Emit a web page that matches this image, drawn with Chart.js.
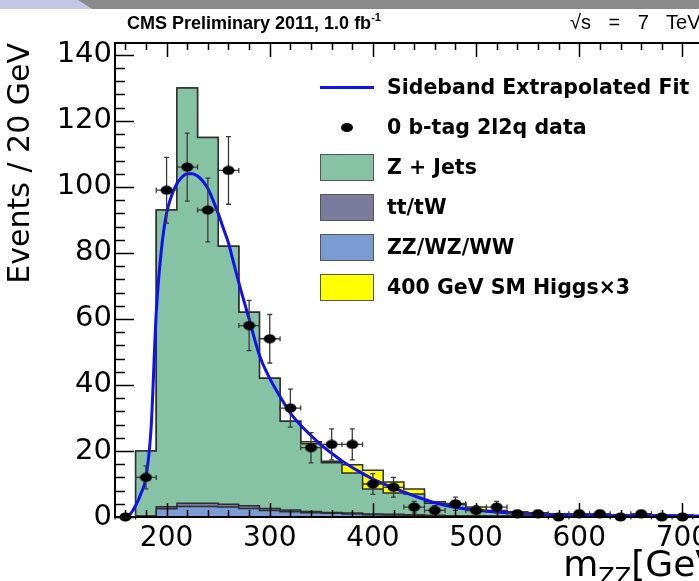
<!DOCTYPE html>
<html>
<head>
<meta charset="utf-8">
<script src="https://cdn.jsdelivr.net/npm/chart.js@4.4.1/dist/chart.umd.min.js"></script>
<style>
  html, body { margin: 0; padding: 0; background: #fff; overflow: hidden; width: 699px; height: 581px; }
  #wrap { position: relative; width: 760px; height: 581px; }
  #plot-box { position: absolute; left: 0; top: 0; width: 760px; height: 581px; }
  .band { position: absolute; left: 0; top: 0; width: 760px; height: 9px; background: #8a8a8a; }
  .band-left { position: absolute; left: 0; top: 0; width: 92px; height: 9px; background: #c6c6e6;
               clip-path: polygon(0 0, 78px 0, 92px 9px, 0 9px); }
  .head { position: absolute; top: 14px; font-family: "Liberation Sans", Arial, sans-serif; font-size: 18px;
          line-height: 18px; color: #000; white-space: nowrap; }
  .head sup { font-size: 11px; vertical-align: 0; position: relative; top: -8px; }
  .xtitle { position: absolute; right: 26px; top: 546px; font-family: "DejaVu Sans", sans-serif; font-size: 36px;
            line-height: 36px; white-space: nowrap; }
  .xtitle span { font-size: 24px; position: relative; top: 9px; }
  .leg-row { position: absolute; left: 320px; height: 27px; }
  .leg-box { position: absolute; left: 0; top: 0; width: 52px; height: 25px; border: 1px solid #555; }
  .leg-line { position: absolute; left: 0; top: 12px; width: 54px; height: 3px; }
  .leg-dot { position: absolute; left: 21px; top: 9px; width: 12px; height: 9px; border-radius: 50%; background: #000; }
  .leg-text { position: absolute; left: 67px; top: 3px; font-family: "DejaVu Sans", sans-serif; font-weight: bold;
              font-size: 20.5px; line-height: 20px; white-space: nowrap; color: #000; }
</style>
</head>
<body>
<div id="wrap">
  <div class="band"></div>
  <div class="band-left"></div>
  <div id="plot-box"><canvas id="plot"></canvas></div>
  <div class="head" style="left:127px; font-weight:bold;">CMS Preliminary 2011, 1.0 fb<sup>-1</sup></div>
  <div class="head" style="left:570px; top:12px; font-size:20px; line-height:20px; word-spacing:12px;">√s = 7 TeV</div>
  <div class="xtitle">m<span>ZZ</span>[GeV]</div>
  <div id="legend"></div>
</div>
<script>
// 20 GeV bins, centres
const binCenters = [180, 200, 220, 240, 260, 280, 300, 320, 340, 360, 380, 400, 420, 440, 460,
                    480, 500, 520, 540, 560, 580, 600, 620, 640, 660, 680, 700, 720, 740];
const diboson = [0.2, 2.5, 3.2, 3.2, 3.0, 2.6, 2.0, 1.6, 1.3, 1.1, 0.9, 0.7, 0.6, 0.5, 0.4,
                 0.3, 0.3, 0.2, 0.2, 0.2, 0.1, 0.1, 0.1, 0.1, 0.1, 0.1, 0.1, 0.1, 0.1];
const ttbar = [0.1, 0.6, 1.0, 1.0, 0.9, 0.8, 0.6, 0.5, 0.4, 0.3, 0.3, 0.2, 0.2, 0.2, 0.1,
               0.1, 0.1, 0.1, 0.1, 0.05, 0.05, 0.05, 0, 0, 0, 0, 0, 0, 0];
const zjets = [19.7, 89.9, 125.8, 110.8, 78.1, 58.6, 39.4, 26.9, 20.5, 15.0, 12.1, 7.6, 6.5, 6.3, 3.7,
               3.4, 1.6, 1.5, 1.2, 0.95, 0.85, 0.75, 0.7, 0.6, 0.5, 0.4, 0.4, 0.3, 0.3];
const higgs = [0, 0, 0, 0, 0, 0, 0, 0, 0.6, 0.5, 2.5, 5.7, 3.3, 1.5, 0.4,
               0.3, 1.0, 0.2, 0, 0, 0, 0, 0, 0, 0, 0, 0, 0, 0];

// data points
const dataMass = [160, 180, 200, 220, 240, 260, 280, 300, 320, 340, 360, 380, 400, 420,
                  440, 460, 480, 500, 520, 540, 560, 580, 600, 620, 640, 660, 680, 700];
const dataCount = [0, 12, 99, 106, 93, 105, 58, 54, 33, 21, 22, 22, 10, 9,
                   3, 2, 4, 2, 3, 1, 1, 0, 1, 1, 0, 1, 0, 0];

// sideband fit curve
const fitMass = [160, 165, 170, 175, 180, 185, 190, 195, 200, 205, 210, 215, 220, 225, 230, 235, 240,
                 245, 250, 255, 260, 265, 270, 280, 290, 300, 310, 320, 330, 340, 350, 360, 370, 380,
                 390, 400, 420, 440, 460, 480, 500, 520, 550, 600, 650, 700, 750];
const fitValue = [0, 1, 3.5, 7, 12, 27, 62, 81, 92, 97.5, 101, 103, 104, 104, 103.3, 101.8, 99.5,
                  96, 92, 87.5, 83, 77, 71, 60, 49, 42, 36.5, 31.5, 27.8, 24.7, 21.8, 19.3, 17, 15,
                  13.2, 11.5, 8.8, 6.4, 4.3, 2.9, 2.1, 1.5, 1.0, 0.6, 0.4, 0.3, 0.25];

const xTickValues = [200, 300, 400, 500, 600, 700];
const yTickValues = [0, 20, 40, 60, 80, 100, 120, 140];

const legendLabels = ['Sideband Extrapolated Fit', '0 b-tag 2l2q data', 'Z + Jets', 'tt/tW', 'ZZ/WZ/WW', '400 GeV SM Higgs×3'];

const COLORS = {
  fit: '#1010f0',
  zjets: '#86c2a4',
  ttbar: '#7b7b9e',
  diboson: '#7b9bd3',
  higgs: '#ffff00',
  outline: '#2e2e2e'
};
const BIN_WIDTH = 20;

function cumulate(...parts) {
  return binCenters.map((_, i) => parts.reduce((s, p) => s + p[i], 0));
}

// points on the bin edges for a stepped outline
function stepPoints(levels) {
  const pts = [{ x: binCenters[0] - BIN_WIDTH / 2, y: 0 }];
  binCenters.forEach((c, i) => pts.push({ x: c - BIN_WIDTH / 2, y: levels[i] }));
  const last = binCenters.length - 1;
  pts.push({ x: binCenters[last] + BIN_WIDTH / 2, y: levels[last] });
  return pts;
}

function histDataset(label, levels, color, order) {
  return {
    label: label,
    data: stepPoints(levels),
    stepped: true,
    fill: 'origin',
    backgroundColor: color,
    borderColor: COLORS.outline,
    borderWidth: 1.5,
    pointRadius: 0,
    order: order
  };
}

// slightly flattened black dot, like the reference markers
const dot = document.createElement('canvas');
dot.width = 13; dot.height = 10;
(function () {
  const c = dot.getContext('2d');
  c.fillStyle = '#000';
  c.beginPath();
  c.ellipse(6.5, 5, 6, 4.6, 0, 0, Math.PI * 2);
  c.fill();
})();

const errorBars = {
  id: 'errorBars',
  beforeDatasetDraw(chart, args) {
    if (!chart.data.datasets[args.index].isData) return;
    const { ctx, scales: { x, y } } = chart;
    ctx.save();
    ctx.strokeStyle = '#3a3a3a';
    ctx.lineWidth = 1.3;
    ctx.beginPath();
    dataMass.forEach((m, i) => {
      const n = dataCount[i];
      const xl = x.getPixelForValue(m - BIN_WIDTH / 2);
      const xr = x.getPixelForValue(m + BIN_WIDTH / 2);
      const xc = x.getPixelForValue(m);
      const yc = y.getPixelForValue(n);
      ctx.moveTo(xl, yc); ctx.lineTo(xr, yc);
      ctx.moveTo(xl, yc - 2.5); ctx.lineTo(xl, yc + 2.5);
      ctx.moveTo(xr, yc - 2.5); ctx.lineTo(xr, yc + 2.5);
      if (n > 0) {
        const e = Math.sqrt(n);
        const yt = y.getPixelForValue(n + e);
        const yb = y.getPixelForValue(Math.max(n - e, 0));
        ctx.moveTo(xc, yt); ctx.lineTo(xc, yb);
        ctx.moveTo(xc - 2.5, yt); ctx.lineTo(xc + 2.5, yt);
        ctx.moveTo(xc - 2.5, yb); ctx.lineTo(xc + 2.5, yb);
      }
    });
    ctx.stroke();
    ctx.restore();
  }
};

// ROOT style frame with inward ticks
const frameTicks = {
  id: 'frameTicks',
  afterDatasetsDraw(chart) {
    const { ctx, chartArea: a, scales: { x, y } } = chart;
    ctx.save();
    ctx.strokeStyle = '#000';
    ctx.lineWidth = 1.5;
    ctx.beginPath();
    for (let m = 160; m <= 740; m += 20) {
      const px = Math.round(x.getPixelForValue(m)) + 0.5;
      const len = m % 100 === 0 ? 14 : 7;
      ctx.moveTo(px, a.bottom); ctx.lineTo(px, a.bottom - len);
      ctx.moveTo(px, a.top); ctx.lineTo(px, a.top + len);
    }
    for (let v = 0; v <= 140; v += 4) {
      const py = Math.round(y.getPixelForValue(v)) + 0.5;
      const len = v % 20 === 0 ? 19 : 10;
      ctx.moveTo(a.left, py); ctx.lineTo(a.left + len, py);
      ctx.moveTo(a.right, py); ctx.lineTo(a.right - len, py);
    }
    ctx.stroke();
    ctx.lineWidth = 2;
    ctx.strokeRect(a.left, a.top, a.right - a.left, a.bottom - a.top);
    ctx.restore();
  }
};

const datasets = [
  histDataset('400 GeV SM Higgs×3', cumulate(diboson, ttbar, zjets, higgs), COLORS.higgs, 5),
  histDataset('Z + Jets', cumulate(diboson, ttbar, zjets), COLORS.zjets, 4),
  histDataset('tt/tW', cumulate(diboson, ttbar), COLORS.ttbar, 3),
  histDataset('ZZ/WZ/WW', cumulate(diboson), COLORS.diboson, 2),
  {
    label: 'Sideband Extrapolated Fit',
    data: fitMass.map((m, i) => ({ x: m, y: fitValue[i] })),
    borderColor: COLORS.fit,
    borderWidth: 3,
    pointRadius: 0,
    fill: false,
    cubicInterpolationMode: 'monotone',
    order: 1
  },
  {
    label: '0 b-tag 2l2q data',
    isData: true,
    data: dataMass.map((m, i) => ({ x: m, y: dataCount[i] })),
    showLine: false,
    pointStyle: dot,
    pointRadius: 6,
    clip: false,
    order: 0
  }
];

new Chart(document.getElementById('plot'), {
  type: 'line',
  data: { datasets: datasets },
  plugins: [errorBars, frameTicks],
  options: {
    responsive: true,
    maintainAspectRatio: false,
    animation: false,
    events: [],
    layout: { padding: { left: 0, top: 43, right: 26, bottom: 0 } },
    plugins: { legend: { display: false }, tooltip: { enabled: false }, title: { display: false } },
    scales: {
      x: {
        type: 'linear',
        min: 150,
        max: 750,
        grid: { display: false, drawTicks: false },
        border: { display: false },
        ticks: { font: { family: 'DejaVu Sans', size: 28 }, color: '#000', padding: 5, maxRotation: 0, autoSkip: false },
        afterBuildTicks: s => { s.ticks = xTickValues.map(v => ({ value: v })); },
        afterFit: s => { s.height = 64; }
      },
      y: {
        min: 0,
        max: 143.6,
        grid: { display: false, drawTicks: false },
        border: { display: false },
        ticks: { font: { family: 'DejaVu Sans', size: 29 }, color: '#000', padding: 3 },
        afterBuildTicks: s => { s.ticks = yTickValues.map(v => ({ value: v })); },
        afterFit: s => { s.width = 115; },
        title: {
          display: true,
          text: 'Events / 20 GeV',
          align: 'end',
          color: '#000',
          font: { family: 'DejaVu Sans', size: 30 },
          padding: { top: 3, bottom: 0 }
        }
      }
    }
  }
});

// legend, built from the labels above
const legendStyle = [
  { kind: 'line', color: COLORS.fit },
  { kind: 'dot' },
  { kind: 'box', color: COLORS.zjets },
  { kind: 'box', color: COLORS.ttbar },
  { kind: 'box', color: COLORS.diboson },
  { kind: 'box', color: COLORS.higgs }
];
const legendTop = 74, legendStep = 40;
const legendEl = document.getElementById('legend');
legendLabels.forEach((txt, i) => {
  const row = document.createElement('div');
  row.className = 'leg-row';
  row.style.top = (legendTop + i * legendStep) + 'px';
  const st = legendStyle[i];
  const mark = document.createElement('div');
  if (st.kind === 'line') { mark.className = 'leg-line'; mark.style.background = st.color; }
  else if (st.kind === 'dot') { mark.className = 'leg-dot'; }
  else { mark.className = 'leg-box'; mark.style.background = st.color; }
  row.appendChild(mark);
  const t = document.createElement('div');
  t.className = 'leg-text';
  t.textContent = txt;
  row.appendChild(t);
  legendEl.appendChild(row);
});
</script>
</body>
</html>
